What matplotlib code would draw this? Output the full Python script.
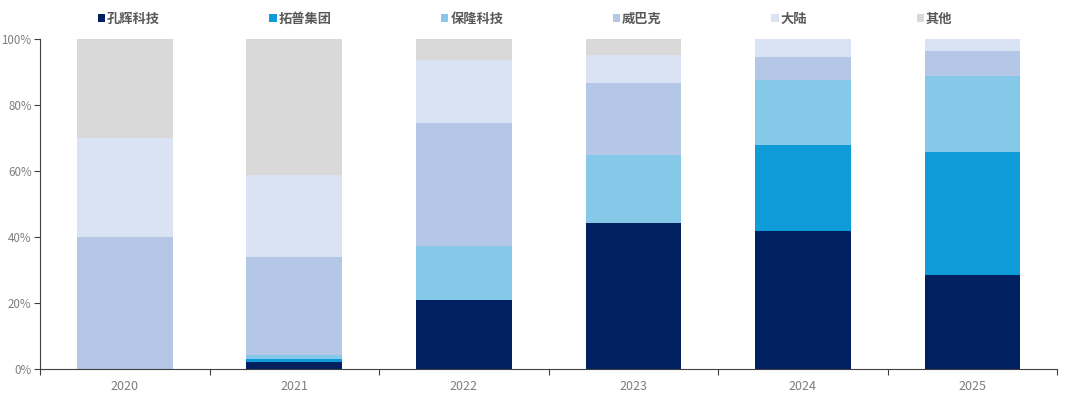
import numpy as np
import matplotlib
matplotlib.use("Agg")
import matplotlib.pyplot as plt

plt.rcParams['font.family'] = ['Noto Sans CJK SC', 'DejaVu Sans']

years = ["2020", "2021", "2022", "2023", "2024", "2025"]
companies = ["孔辉科技", "拓普集团", "保隆科技", "威巴克", "大陆", "其他"]
colors = ["#002060", "#0E9BD8", "#85C8E8", "#B4C7E7", "#DAE3F3", "#D9D9D9"]

# shares in %
kh = [0.0, 2.2, 20.9, 44.4, 41.9, 28.6]
tp = [0.0, 0.8, 0.0, 0.0, 26.0, 37.4]
bl = [0.0, 1.2, 16.4, 20.6, 19.8, 22.9]
wbk = [40.0, 29.8, 37.3, 21.8, 6.9, 7.6]
dl = [30.0, 25.0, 19.1, 8.5, 5.4, 3.5]
qt = [30.0, 41.0, 6.3, 4.7, 0.0, 0.0]

series = [kh, tp, bl, wbk, dl, qt]

def main():
    fig = plt.figure(figsize=(10.8, 3.98), dpi=100)
    ax = fig.add_axes([0.037, 0.072, 0.942, 0.829])

    x = np.arange(len(years))
    bottom = np.zeros(len(years))
    handles = []
    for name, vals, c in zip(companies, series, colors):
        b = ax.bar(x, vals, width=0.565, bottom=bottom, color=c, label=name, linewidth=0)
        handles.append(b)
        bottom += np.array(vals)

    ax.set_xlim(-0.5, len(years) - 0.5)
    ax.set_ylim(0, 100)
    ax.set_yticks(np.arange(0, 101, 20))
    ax.set_yticklabels([f"{v}%" for v in range(0, 101, 20)])
    ax.set_xticks(x)
    ax.set_xticklabels(years)
    ax.set_xticks(np.arange(-0.5, len(years), 1), minor=True)
    ax.tick_params(axis='x', which='major', length=0, pad=8, labelsize=9, labelcolor="#7f7f7f")
    ax.tick_params(axis='x', which='minor', length=4, width=0.8, direction='out', color="#404040")
    ax.tick_params(axis='y', length=4, width=0.8, direction='out', labelsize=8.3,
                   labelcolor="#7f7f7f", color="#404040", pad=2)

    for s in ["top", "right"]:
        ax.spines[s].set_visible(False)
    for s in ["left", "bottom"]:
        ax.spines[s].set_color("#404040")
        ax.spines[s].set_linewidth(0.8)

    leg = fig.legend(handles=handles, loc="upper center", bbox_to_anchor=(0.486, 1.0),
                     ncol=6, frameon=False, handlelength=0.55, handleheight=0.55,
                     handletextpad=0.15, columnspacing=8.3,
                     prop={'size': 9.5, 'weight': 'bold'})
    for t in leg.get_texts():
        t.set_color("#595959")

    fig.savefig("out.png", dpi=100)

if __name__ == "__main__":
    main()
